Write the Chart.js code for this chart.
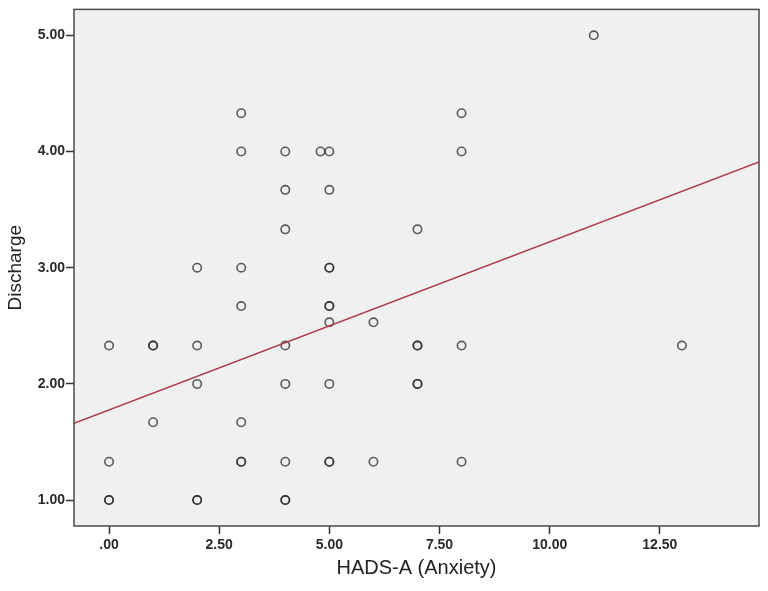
<!DOCTYPE html>
<html>
<head>
<meta charset="utf-8">
<script src="https://cdn.jsdelivr.net/npm/chart.js@4.4.1/dist/chart.umd.min.js"></script>
<style>
  html, body { margin: 0; padding: 0; background: #ffffff; }
  #wrap { width: 768px; height: 591px; }
</style>
</head>
<body>
<div id="wrap"><canvas id="scatterChart"></canvas></div>
<script>
// HADS-A score per patient (x) and discharge score (y)
const anxietyScores = [
	0, 0, 0, 0,
	1, 1, 1,
	2, 2, 2, 2, 2,
	3, 3, 3, 3, 3, 3, 3,
	4, 4, 4, 4, 4, 4, 4, 4,
	4.8,
	5, 5, 5, 5, 5, 5, 5, 5, 5, 5,
	6, 6,
	7, 7, 7, 7, 7,
	8, 8, 8, 8,
	11,
	13
];
const dischargeScores = [
	2.33, 1.33, 1.00, 1.00,
	2.33, 2.33, 1.67,
	3.00, 2.33, 2.00, 1.00, 1.00,
	4.33, 4.00, 3.00, 2.67, 1.67, 1.33, 1.33,
	4.00, 3.67, 3.33, 2.33, 2.00, 1.33, 1.00, 1.00,
	4.00,
	4.00, 3.67, 3.00, 3.00, 2.67, 2.67, 2.53, 2.00, 1.33, 1.33,
	2.53, 1.33,
	3.33, 2.33, 2.33, 2.00, 2.00,
	4.33, 4.00, 2.33, 1.33,
	5.00,
	2.33
];

// fit line (linear regression)
const fitIntercept = 1.776;
const fitSlope = 0.1447;

const xTicks = [0, 2.5, 5, 7.5, 10, 12.5];
const xTickLabels = ['.00', '2.50', '5.00', '7.50', '10.00', '12.50'];
const yTicks = [1, 2, 3, 4, 5];
const yTickLabels = ['1.00', '2.00', '3.00', '4.00', '5.00'];

const xMin = -0.795, xMax = 14.75;
const yMin = 0.777, yMax = 5.223;

const points = anxietyScores.map((x, i) => ({ x: x, y: dischargeScores[i] }));
const fitLine = [xMin, xMax].map(x => ({ x: x, y: fitIntercept + fitSlope * x }));

const plotFrame = {
	id: 'plotFrame',
	beforeDraw(chart) {
		const a = chart.chartArea;
		const ctx = chart.ctx;
		ctx.save();
		ctx.fillStyle = '#f0f0f0';
		ctx.fillRect(a.left, a.top, a.right - a.left, a.bottom - a.top);
		ctx.restore();
	},
	afterDraw(chart) {
		const a = chart.chartArea;
		const ctx = chart.ctx;
		ctx.save();
		ctx.strokeStyle = '#4a4a4a';
		ctx.lineWidth = 1.5;
		ctx.strokeRect(a.left, a.top, a.right - a.left, a.bottom - a.top);
		ctx.restore();
	}
};

const tickFont = { family: "'Liberation Sans', Arial, sans-serif", size: 14, weight: 'bold' };

const drawScatterChart = () => {
	const scatterChart = new Chart(document.getElementById('scatterChart'), {
		type: 'scatter',
		data: {
			datasets: [
				{
					label: 'Fit line',
					type: 'line',
					data: fitLine,
					borderColor: '#b03a48',
					borderWidth: 1.5,
					pointRadius: 0,
					fill: false,
					order: 1
				},
				{
					label: 'Patients',
					data: points,
					pointStyle: 'circle',
					pointRadius: 4.2,
					borderWidth: 1.6,
					borderColor: 'rgba(40,40,40,0.75)',
					backgroundColor: 'rgba(0,0,0,0)',
					order: 2
				}
			]
		},
		options: {
			responsive: true,
			maintainAspectRatio: false,
			animation: false,
			layout: {
				padding: { left: 0, right: 9, top: 8, bottom: 0 }
			},
			plugins: {
				legend: { display: false },
				tooltip: { enabled: false }
			},
			scales: {
				x: {
					type: 'linear',
					min: xMin,
					max: xMax,
					afterBuildTicks: scale => { scale.ticks = xTicks.map(v => ({ value: v })); },
					afterFit: scale => { scale.height = 65; },
					ticks: {
						callback: (value, index) => xTickLabels[index],
						font: tickFont,
						color: '#2a2a2a',
						padding: 3,
						maxRotation: 0
					},
					grid: {
						drawOnChartArea: false,
						drawTicks: true,
						tickLength: 8,
						tickColor: '#333333',
						tickWidth: 1.5
					},
					border: { display: false },
					title: {
						display: true,
						text: 'HADS-A (Anxiety)',
						font: { family: "'Liberation Sans', Arial, sans-serif", size: 20 },
						color: '#222222',
						padding: { top: 0, bottom: 11 }
					}
				},
				y: {
					type: 'linear',
					min: yMin,
					max: yMax,
					afterBuildTicks: scale => { scale.ticks = yTicks.map(v => ({ value: v })); },
					afterFit: scale => { scale.width = 74; },
					ticks: {
						callback: (value, index) => yTickLabels[index],
						font: tickFont,
						color: '#2a2a2a',
						padding: 1
					},
					grid: {
						drawOnChartArea: false,
						drawTicks: true,
						tickLength: 8,
						tickColor: '#333333',
						tickWidth: 1.5
					},
					border: { display: false },
					title: {
						display: true,
						text: 'Discharge',
						font: { family: "'Liberation Sans', Arial, sans-serif", size: 19 },
						color: '#222222',
						padding: { top: 4, bottom: 0 }
					}
				}
			}
		},
		plugins: [plotFrame]
	});
};

drawScatterChart();
</script>
</body>
</html>
